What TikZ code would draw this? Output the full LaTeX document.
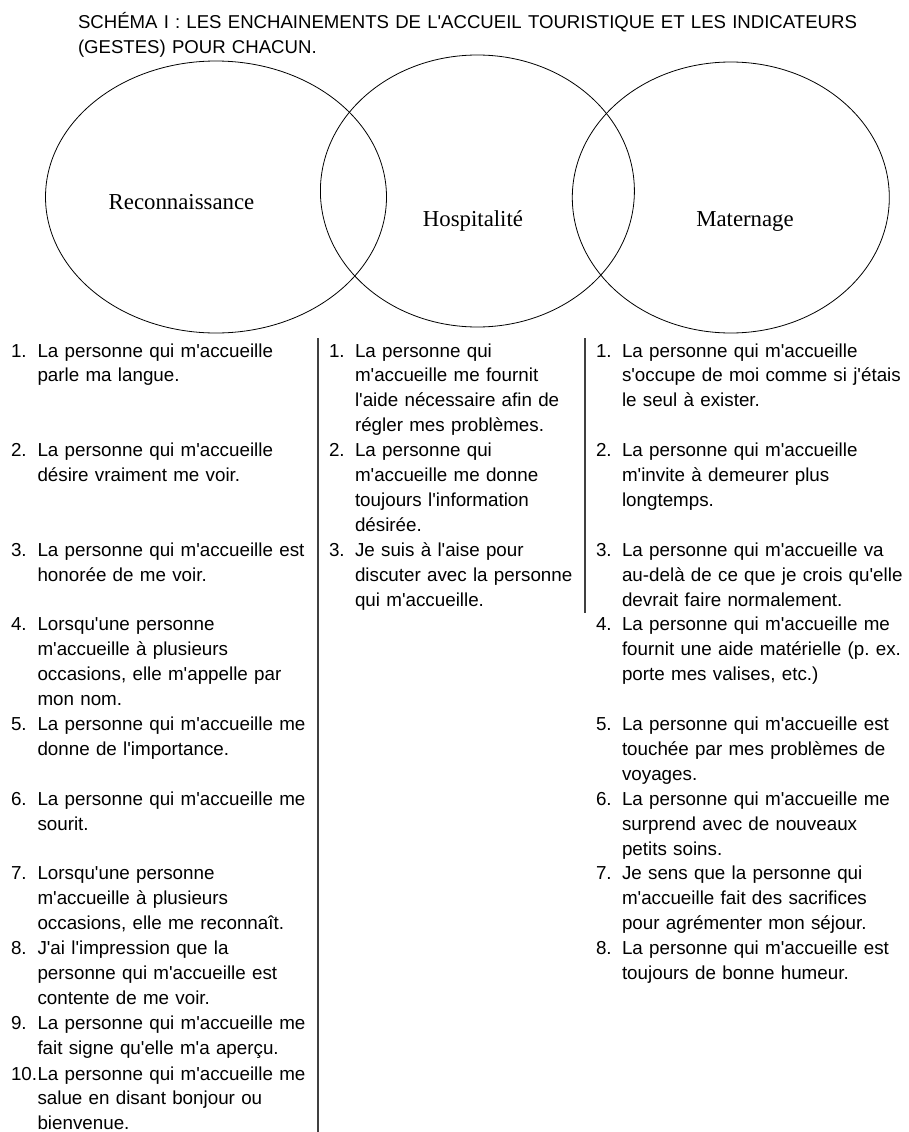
\documentclass[tikz,border=0pt]{standalone}
\usepackage{fontspec}
\setmainfont{Liberation Sans}[Ligatures=TeXOff]
\newfontfamily\seriffont{Liberation Serif}
\frenchspacing

\begin{document}
\begin{tikzpicture}[
    x=1pt, y=-1pt,
    every node/.style={inner sep=0pt, outer sep=0pt, anchor=base west,
        font=\fontsize{18.8}{24.9}\selectfont},
    item/.style={align=left, text width=300pt},
    cercle/.style={draw, line width=0.8pt},
    theme/.style={anchor=base, font=\seriffont\fontsize{22.8}{26}\selectfont},
    filet/.style={draw=black!75, line width=1.1pt},
]
\useasboundingbox (0,0) rectangle (909,1132);

\node[item, text width=820pt, font=\fontsize{18.6}{24.9}\selectfont] (titre) at (78,29) {SCHÉMA I : LES ENCHAINEMENTS DE L'ACCUEIL TOURISTIQUE ET LES INDICATEURS\\(GESTES) POUR CHACUN.};

\draw[cercle] (216,197) ellipse [x radius=170.5pt, y radius=136pt];
\draw[cercle] (477.4,191) ellipse [x radius=157pt, y radius=136pt];
\draw[cercle] (730.8,197.5) ellipse [x radius=158.5pt, y radius=135.5pt];
\node[theme] (reco) at (181.5,209) {Reconnaissance};
\node[theme] (hosp) at (473,226) {Hospitalité};
\node[theme] (mater) at (745,226) {Maternage};

\coordinate (filetA) at (318,338);
\coordinate (filetAbas) at (318,1132);
\coordinate (filetB) at (585,338);
\coordinate (filetBbas) at (585,613);
\draw[filet] (filetA) -- (filetAbas);
\draw[filet] (filetB) -- (filetBbas);

\node (r1n) at (11,357) {1.};
\node[item] (r1) at (37.5,357) {La personne qui m'accueille\\parle ma langue.};
\node (r2n) at (11,456.6) {2.};
\node[item] (r2) at (37.5,456.6) {La personne qui m'accueille\\désire vraiment me voir.};
\node (r3n) at (11,556.2) {3.};
\node[item] (r3) at (37.5,556.2) {La personne qui m'accueille est\\honorée de me voir.};
\node (r4n) at (11,630.9) {4.};
\node[item] (r4) at (37.5,630.9) {Lorsqu'une personne\\m'accueille à plusieurs\\occasions, elle m'appelle par\\mon nom.};
\node (r5n) at (11,730.5) {5.};
\node[item] (r5) at (37.5,730.5) {La personne qui m'accueille me\\donne de l'importance.};
\node (r6n) at (11,805.2) {6.};
\node[item] (r6) at (37.5,805.2) {La personne qui m'accueille me\\sourit.};
\node (r7n) at (11,879.9) {7.};
\node[item] (r7) at (37.5,879.9) {Lorsqu'une personne\\m'accueille à plusieurs\\occasions, elle me reconnaît.};
\node (r8n) at (11,954.6) {8.};
\node[item] (r8) at (37.5,954.6) {J'ai l'impression que la\\personne qui m'accueille est\\contente de me voir.};
\node (r9n) at (11,1029.3) {9.};
\node[item] (r9) at (37.5,1029.3) {La personne qui m'accueille me\\fait signe qu'elle m'a aperçu.};
\node (r10n) at (11,1080) {10.};
\node[item] (r10) at (37.5,1080) {La personne qui m'accueille me\\salue en disant bonjour ou\\bienvenue.};

\node (h1n) at (329,357) {1.};
\node[item] (h1) at (355,357) {La personne qui\\m'accueille me fournit\\l'aide nécessaire afin de\\régler mes problèmes.};
\node (h2n) at (329,456.6) {2.};
\node[item] (h2) at (355,456.6) {La personne qui\\m'accueille me donne\\toujours l'information\\désirée.};
\node (h3n) at (329,556.2) {3.};
\node[item] (h3) at (355,556.2) {Je suis à l'aise pour\\discuter avec la personne\\qui m'accueille.};

\node (m1n) at (596,357) {1.};
\node[item] (m1) at (622,357) {La personne qui m'accueille\\s'occupe de moi comme si j'étais\\le seul à exister.};
\node (m2n) at (596,456.6) {2.};
\node[item] (m2) at (622,456.6) {La personne qui m'accueille\\m'invite à demeurer plus\\longtemps.};
\node (m3n) at (596,556.2) {3.};
\node[item] (m3) at (622,556.2) {La personne qui m'accueille va\\au-delà de ce que je crois qu'elle\\devrait faire normalement.};
\node (m4n) at (596,630.9) {4.};
\node[item] (m4) at (622,630.9) {La personne qui m'accueille me\\fournit une aide matérielle (p. ex.\\porte mes valises, etc.)};
\node (m5n) at (596,730.5) {5.};
\node[item] (m5) at (622,730.5) {La personne qui m'accueille est\\touchée par mes problèmes de\\voyages.};
\node (m6n) at (596,805.2) {6.};
\node[item] (m6) at (622,805.2) {La personne qui m'accueille me\\surprend avec de nouveaux\\petits soins.};
\node (m7n) at (596,879.9) {7.};
\node[item] (m7) at (622,879.9) {Je sens que la personne qui\\m'accueille fait des sacrifices\\pour agrémenter mon séjour.};
\node (m8n) at (596,954.6) {8.};
\node[item] (m8) at (622,954.6) {La personne qui m'accueille est\\toujours de bonne humeur.};
\end{tikzpicture}
\end{document}
